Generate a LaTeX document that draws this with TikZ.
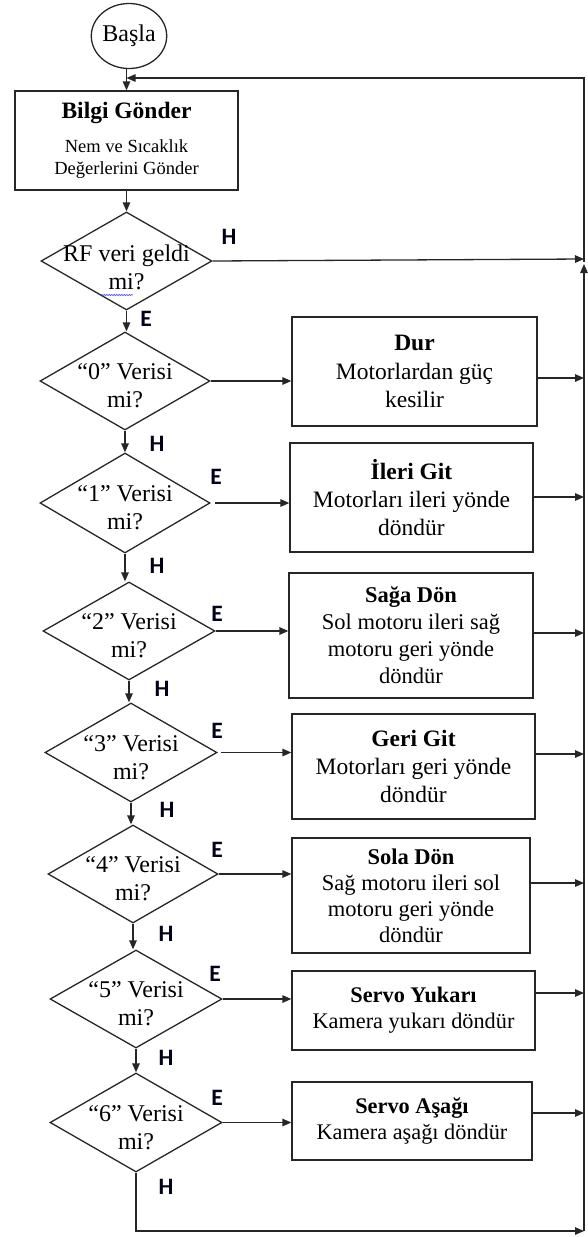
\documentclass[tikz,border=0pt]{standalone}
\usepackage{fontspec}
\setmainfont{Liberation Serif}
\newfontfamily\lblfont{Carlito}
\usetikzlibrary{shapes.geometric, arrows.meta, decorations.pathmorphing}

\begin{document}
\begin{tikzpicture}[x=1pt, y=-1pt,
  line width=1.3pt, draw=black!85,
  flow/.style={draw=black!85, -{Triangle[length=9pt,width=7.5pt]}},
  proc/.style={draw=black!85, rectangle, align=center, inner sep=2pt},
  dec/.style={draw=black!85, diamond, inner sep=0pt, minimum width=171pt, minimum height=98pt},
  dtext/.style={align=center, font=\fontsize{24}{28}\selectfont},
  yn/.style={font=\lblfont\bfseries\fontsize{23.5}{23.5}\selectfont, text=black!90!blue},
]
\useasboundingbox (0,0) rectangle (587,1237);

% start and first process
\node[draw=black!85, ellipse, minimum width=73pt, minimum height=65pt, inner sep=0pt,
      font=\fontsize{24}{28}\selectfont] (start) at (129,36) {Başla};
\node[proc, minimum width=223pt, minimum height=99pt, font=\fontsize{18.5}{22}\selectfont]
  (bilgi) at (126.5,140.5)
  {\textbf{\fontsize{23.5}{28}\selectfont Bilgi Gönder}\\[12pt]Nem ve Sıcaklık\\Değerlerini Gönder};

% decisions
\node[dec, label={[dtext,yshift=-6pt]center:{RF veri geldi\\mi?}}] (rf) at (126.5,261) {};
\node[dec, minimum width=170pt, label={[dtext,yshift=-5pt]center:{“0” Verisi\\mi?}}] (d0) at (125,381) {};
\node[dec, minimum width=170pt, minimum height=100pt, label={[dtext,yshift=-5pt]center:{“1” Verisi\\mi?}}] (d1) at (125,503) {};
\node[dec, minimum width=172pt, label={[dtext,yshift=-5pt]center:{“2” Verisi\\mi?}}] (d2) at (129,631) {};
\node[dec, minimum width=172pt, minimum height=99pt, label={[dtext,yshift=-5pt]center:{“3” Verisi\\mi?}}] (d3) at (131,752.5) {};
\node[dec, minimum width=170pt, label={[dtext,yshift=-5pt]center:{“4” Verisi\\mi?}}] (d4) at (133,874) {};
\node[dec, minimum width=172pt, label={[dtext,yshift=-5pt]center:{“5” Verisi\\mi?}}] (d5) at (136,999) {};
\node[dec, minimum width=172pt, minimum height=99pt, label={[dtext,yshift=-5pt]center:{“6” Verisi\\mi?}}] (d6) at (136,1122.5) {};

% actions
\node[proc, minimum width=245pt, minimum height=109pt, font=\fontsize{23.5}{28.5}\selectfont]
  (dur) at (414.5,371.5) {\textbf{Dur}\\Motorlardan güç\\kesilir};
\node[proc, minimum width=243pt, minimum height=109pt, font=\fontsize{23.5}{28}\selectfont]
  (ileri) at (411.5,497.5) {\textbf{İleri Git}\\Motorları ileri yönde\\döndür};
\node[proc, minimum width=244pt, minimum height=125pt, font=\fontsize{22.5}{27}\selectfont]
  (saga) at (411,635.5) {\textbf{Sağa Dön}\\Sol motoru ileri sağ\\motoru geri yönde\\döndür};
\node[proc, minimum width=243pt, minimum height=105pt, font=\fontsize{23.5}{28}\selectfont]
  (geri) at (413.5,766.5) {\textbf{Geri Git}\\Motorları geri yönde\\döndür};
\node[proc, minimum width=238pt, minimum height=115pt, font=\fontsize{22.5}{26}\selectfont]
  (sola) at (411,895.5) {\textbf{Sola Dön}\\Sağ motoru ileri sol\\motoru geri yönde\\döndür};
\node[proc, minimum width=243pt, minimum height=79pt, font=\fontsize{22.3}{26}\selectfont]
  (yukari) at (413.5,1010.5) {\textbf{Servo Yukarı}\\Kamera yukarı döndür};
\node[proc, minimum width=240pt, minimum height=78pt, font=\fontsize{22.3}{26}\selectfont]
  (asagi) at (412,1121) {\textbf{Servo Aşağı}\\Kamera aşağı döndür};

% yes / no labels
\node[yn] (hrf) at (229,237) {H};
\node[yn] (erf) at (146,319) {E};
\node[yn] (h0) at (157,444) {H};
\node[yn] (e1) at (216,477) {E};
\node[yn] (h1) at (157,566) {H};
\node[yn] (e2) at (217,614) {E};
\node[yn] (h2) at (162,689) {H};
\node[yn] (e3) at (217,731) {E};
\node[yn] (h3) at (167,810) {H};
\node[yn] (e4) at (217,850) {E};
\node[yn] (h4) at (166,934) {H};
\node[yn] (e5) at (215,974) {E};
\node[yn] (h5) at (166,1058) {H};
\node[yn] (e6) at (217,1098) {E};
\node[yn] (h6) at (166,1187) {H};

% return bus on the right
\coordinate (topJ) at (126.5,78);
\coordinate (busRF) at (584,259);
\coordinate (busTop) at (584,264);
\coordinate (busBot) at (584,1231);
\coordinate (r0) at (584,378);
\coordinate (r1) at (584,497);
\coordinate (r2) at (584,633);
\coordinate (r3) at (584,754);
\coordinate (r4) at (584,883);
\coordinate (r5) at (584,993);
\coordinate (r6) at (584,1113);

% main column
\draw[flow] (bilgi.north |- start.south) -- (bilgi.north);
\draw[flow] (bilgi) -- (rf);
\draw[flow] (rf.south) -- (rf.south |- d0.north);
\draw[flow] (d0.south) -- (d0.south |- d1.north);
\draw[flow] (d1.south) -- (d1.south |- d2.north);
\draw[flow] (d2.south) -- (d2.south |- d3.north);
\draw[flow] (d3.south) -- (d3.south |- d4.north);
\draw[flow] (d4.south) -- (d4.south |- d5.north);
\draw[flow] (d5.south) -- (d5.south |- d6.north);

% decisions to actions
\draw[flow] (d0.east) -- (d0.east -| dur.west);
\draw[flow] ([xshift=4pt]d1.east) -- (d1.east -| ileri.west);
\draw[flow] (d2.east) -- (d2.east -| saga.west);
\draw[flow] ([xshift=3pt]d3.east) -- (d3.east -| geri.west);
\draw[flow] (d4.east) -- (d4.east -| sola.west);
\draw[flow] (d5.east) -- (d5.east -| yukari.west);
\draw[flow] (d6.east) -- (d6.east -| asagi.west);

% actions to the bus
\draw[flow] (dur.east |- r0) -- (r0);
\draw[flow] (ileri.east |- r1) -- (r1);
\draw[flow] (saga.east |- r2) -- (r2);
\draw[flow] (geri.east |- r3) -- (r3);
\draw[flow] (sola.east |- r4) -- (r4);
\draw[flow] (yukari.east |- r5) -- (r5);
\draw[flow] (asagi.east |- r6) -- (r6);

% loops back
\draw[flow] (rf.east) -- (busRF);
\draw[flow] (d6.south) |- (busBot);
\draw[flow] (busBot) -- (busTop);
\draw[flow] ([yshift=-3pt]busRF) |- (topJ);

% spelling mark under "mi"
\draw[blue!70!white, line width=0.6pt, decorate,
      decoration={snake, amplitude=0.6pt, segment length=2.5pt}] (101,295) -- (133,295);
\end{tikzpicture}
\end{document}
